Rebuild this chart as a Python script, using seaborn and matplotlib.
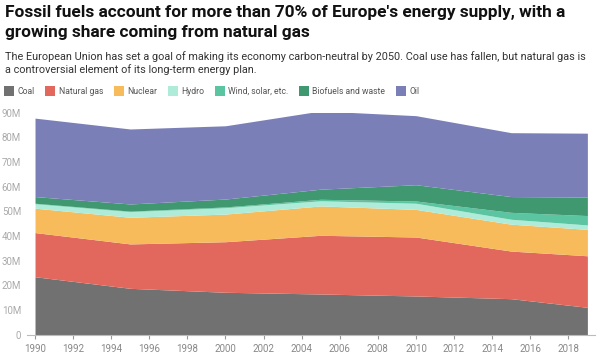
import matplotlib
matplotlib.use("Agg")
import matplotlib.pyplot as plt
import matplotlib.patches as mpatches
from matplotlib.ticker import FuncFormatter
import seaborn as sns

# energy supply in the EU, millions
years = [1990, 1995, 2000, 2005, 2010, 2015, 2019]
coal = [23.5, 18.8, 17.2, 16.5, 15.7, 14.6, 11.1]
natural_gas = [17.9, 18.0, 20.5, 23.8, 23.9, 19.3, 20.9]
nuclear = [9.9, 10.8, 11.2, 11.9, 11.2, 10.9, 10.7]
hydro = [1.8, 2.3, 2.6, 2.1, 2.5, 2.0, 1.8]
wind_solar = [0.2, 0.2, 0.3, 0.6, 0.9, 2.8, 3.8]
biofuels = [2.7, 2.9, 3.2, 4.1, 6.6, 6.4, 7.5]
oil = [31.8, 30.4, 29.7, 31.7, 28.0, 25.9, 25.9]

labels = ["Coal", "Natural gas", "Nuclear", "Hydro", "Wind, solar, etc.",
          "Biofuels and waste", "Oil"]
colors = ["#717171", "#e2685d", "#f7bb5c", "#aeecd9", "#5bc4a0", "#409870", "#7a7fb8"]
xticks = list(range(1990, 2019, 2))
yticks = list(range(0, 91, 10))

title_lines = ["Fossil fuels account for more than 70% of Europe's energy supply, with a",
               "growing share coming from natural gas"]
subtitle_lines = ["The European Union has set a goal of making its economy carbon-neutral by 2050. "
                  "Coal use has fallen, but natural gas is",
                  "a controversial element of its long-term energy plan."]

sns.set_theme(style="white")
plt.rcParams["font.family"] = ["Roboto", "DejaVu Sans"]

W, H = 600, 359
fig = plt.figure(figsize=(W / 100, H / 100), dpi=100)


def px(x, y):
    return x / W, 1 - y / H


# axes: x from 27.4px to 595px, y 0 at 334.7px, 90 at 112.7px
ax = fig.add_axes([27.4 / W, (H - 334.7) / H, (595 - 27.4) / W, (334.7 - 112.7) / H])
ax.stackplot(years, coal, natural_gas, nuclear, hydro, wind_solar, biofuels, oil,
             colors=colors, labels=labels, linewidth=0)
ax.set_xlim(1989.6, 2019.4)
ax.set_ylim(0, 90)
ax.set_xticks(xticks)
ax.set_yticks(yticks)
ax.yaxis.set_major_formatter(FuncFormatter(lambda v, p: "0" if v == 0 else f"{int(v)}M"))
ax.tick_params(axis="x", colors="#999999", labelsize=7.0, length=3, width=0.8,
               direction="out", pad=4, bottom=True)
ax.tick_params(axis="x", labelcolor="#888888")
ax.tick_params(axis="y", colors="#aaaaaa", labelsize=7.0, length=0, pad=4.5)
for side in ["top", "right", "left"]:
    ax.spines[side].set_visible(False)
ax.spines["bottom"].set_color("#bbbbbb")
ax.spines["bottom"].set_linewidth(0.8)

# title and subtitle, one text per line placed on the reference baselines
for line, base in zip(title_lines, [17.5, 37.0]):
    fig.text(*px(5, base), line, fontsize=12.4, fontweight="bold", color="#111111",
             va="baseline", ha="left")
for line, base in zip(subtitle_lines, [60.0, 72.7]):
    fig.text(*px(5, base), line, fontsize=7.85, color="#333333", va="baseline", ha="left")

# legend row
fig.canvas.draw()
renderer = fig.canvas.get_renderer()
x = 4.0
for lab, col in zip(labels, colors):
    fig.patches.append(mpatches.Rectangle(px(x, 96), 10 / W, 10 / H, transform=fig.transFigure,
                                          facecolor=col, edgecolor="none"))
    t = fig.text(*px(x + 13.5, 91.5), lab, fontsize=6.2, color="#555555", va="center", ha="left")
    w = t.get_window_extent(renderer).width
    x = x + 13.5 + w + 10.5

fig.savefig("out.png", dpi=100)
